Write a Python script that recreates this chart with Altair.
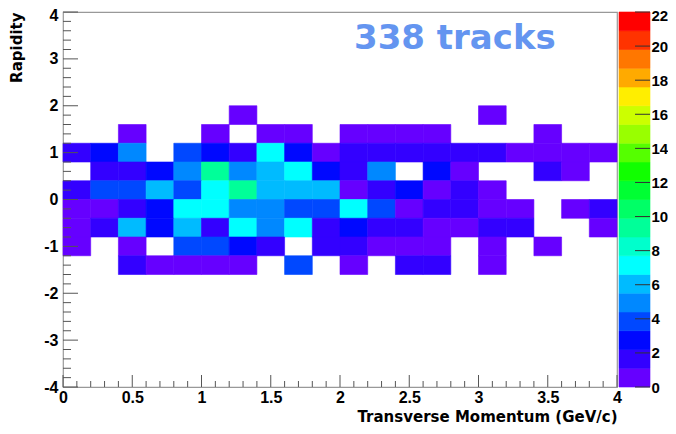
import altair as alt
import pandas as pd

# ---- histogram binning (pT: 0.2 GeV/c bins, rapidity: 0.4 bins) ----
x_edges = [0.0, 0.2, 0.4, 0.6, 0.8, 1.0, 1.2, 1.4, 1.6, 1.8, 2.0,
           2.2, 2.4, 2.6, 2.8, 3.0, 3.2, 3.4, 3.6, 3.8, 4.0]
y_lows = [1.6, 1.2, 0.8, 0.4, 0.0, -0.4, -0.8, -1.2, -1.6]
y_bin = 0.4

# bin contents, one list per rapidity row (columns = pT bins 0..19)
row_p16 = [0, 0, 0, 0, 0, 0, 1, 0, 0, 0, 0, 0, 0, 0, 0, 1, 0, 0, 0, 0]
row_p12 = [0, 0, 1, 0, 0, 1, 0, 1, 1, 0, 1, 1, 1, 1, 0, 0, 0, 1, 0, 0]
row_p08 = [2, 3, 5, 0, 4, 3, 2, 7, 3, 1, 2, 2, 2, 2, 2, 2, 1, 1, 1, 1]
row_p04 = [0, 2, 2, 3, 5, 9, 5, 6, 7, 3, 2, 5, 0, 3, 1, 0, 0, 2, 1, 0]
row_p00 = [2, 4, 4, 6, 4, 7, 9, 6, 6, 6, 1, 2, 3, 1, 2, 1, 0, 0, 0, 0]
row_m04 = [1, 1, 2, 3, 7, 7, 5, 5, 4, 4, 7, 4, 1, 2, 2, 1, 1, 0, 1, 2]
row_m08 = [1, 2, 6, 3, 6, 2, 7, 5, 7, 2, 3, 2, 2, 1, 1, 2, 2, 0, 0, 1]
row_m12 = [1, 0, 1, 0, 4, 4, 3, 2, 0, 2, 2, 1, 1, 1, 0, 1, 0, 1, 0, 0]
row_m16 = [0, 0, 2, 1, 1, 1, 1, 0, 4, 0, 1, 0, 2, 2, 0, 1, 0, 0, 0, 0]
rows = [row_p16, row_p12, row_p08, row_p04, row_p00, row_m04, row_m08, row_m12, row_m16]

# colour palette (20 contour levels from 0 to 22)
z_thresholds = [1.1, 2.2, 3.3, 4.4, 5.5, 6.6, 7.7, 8.8, 9.9, 11.0,
                12.1, 13.2, 14.3, 15.4, 16.5, 17.6, 18.7, 19.8, 20.9]
palette = ["#6600ff", "#3300ff", "#0008ff", "#0048ff", "#0088ff",
           "#00bbff", "#00ffff", "#00ffcc", "#00ff99", "#00ff66",
           "#00ff33", "#11ff00", "#55ff00", "#99ff00", "#ccff00",
           "#ffee00", "#ffaa00", "#ff7700", "#ff3300", "#ff0000"]
z_min, z_max = 0.0, 22.0
z_ticks = [0, 2, 4, 6, 8, 10, 12, 14, 16, 18, 20, 22]

x_major = [0, 0.5, 1, 1.5, 2, 2.5, 3, 3.5, 4]
x_minor = [0.1, 0.2, 0.3, 0.4, 0.6, 0.7, 0.8, 0.9, 1.1, 1.2, 1.3, 1.4,
           1.6, 1.7, 1.8, 1.9, 2.1, 2.2, 2.3, 2.4, 2.6, 2.7, 2.8, 2.9,
           3.1, 3.2, 3.3, 3.4, 3.6, 3.7, 3.8, 3.9]
y_major = [-4, -3, -2, -1, 0, 1, 2, 3, 4]
y_minor = [-3.8, -3.6, -3.4, -3.2, -2.8, -2.6, -2.4, -2.2, -1.8, -1.6, -1.4, -1.2,
           -0.8, -0.6, -0.4, -0.2, 0.2, 0.4, 0.6, 0.8, 1.2, 1.4, 1.6, 1.8,
           2.2, 2.4, 2.6, 2.8, 3.2, 3.4, 3.6, 3.8]

annotation = ["338 tracks"]
x_title = "Transverse Momentum (GeV/c)"
y_title = "Rapidity"

# ---- build tables ----
recs = []
for yl, row in zip(y_lows, rows):
    for i, c in enumerate(row):
        if c > 0:
            recs.append({"xlo": x_edges[i], "xhi": x_edges[i + 1],
                         "ylo": yl, "yhi": round(yl + y_bin, 2), "count": c})
cells = pd.DataFrame(recs)

z_edges = [z_min] + z_thresholds + [z_max]
cbar = pd.DataFrame({"zlo": z_edges[:-1], "zhi": z_edges[1:],
                     "count": [(a + b) / 2 for a, b in zip(z_edges[:-1], z_edges[1:])]})

W, H = 554, 375
LAB_FONT = "Liberation Sans"
TIT_FONT = "DejaVu Sans"

xs = alt.Scale(domain=[0, 4], nice=False, zero=False)
ys = alt.Scale(domain=[-4, 4], nice=False, zero=False)
zs = alt.Scale(domain=[z_min, z_max], nice=False, zero=False)
cs = alt.Scale(type="threshold", domain=z_thresholds, range=palette)

x_axis = alt.Axis(values=x_major, labelExpr="'' + datum.value", ticks=False, tickSize=0,
                  domain=False, grid=False, labelFont=LAB_FONT, labelFontWeight="bold",
                  labelFontSize=16, labelColor="black", labelPadding=2,
                  labelOverlap=False, labelFlush=False, title=x_title,
                  titleFont=TIT_FONT, titleFontSize=15, titleFontWeight="bold",
                  titleColor="black", titleAnchor="end", titlePadding=4)
y_axis = alt.Axis(values=y_major, labelExpr="'' + datum.value", ticks=False, tickSize=0,
                  domain=False, grid=False, labelFont=LAB_FONT, labelFontWeight="bold",
                  labelFontSize=16, labelColor="black", labelPadding=5,
                  labelOffset={"condition": {"test": "datum.value == 4", "value": 3}, "value": 0},
                  labelOverlap=False, labelFlush=False, title=y_title,
                  titleFont=TIT_FONT, titleFontSize=15, titleFontWeight="bold",
                  titleColor="black", titleAnchor="end", titlePadding=19)

cells_l = alt.Chart(cells).mark_rect(strokeWidth=0.6).encode(
    x=alt.X("xlo:Q", scale=xs, axis=x_axis),
    x2="xhi:Q",
    y=alt.Y("ylo:Q", scale=ys, axis=y_axis),
    y2="yhi:Q",
    color=alt.Color("count:Q", scale=cs, legend=None),
    stroke=alt.Color("count:Q", scale=cs, legend=None),
)

xmaj_l = alt.Chart(pd.DataFrame({"xlo": x_major})).mark_rule(color="#555", strokeWidth=1).encode(
    x=alt.X("xlo:Q", scale=xs, axis=x_axis), y=alt.value(H), y2=alt.value(H - 12))
xmin_l = alt.Chart(pd.DataFrame({"xlo": x_minor})).mark_rule(color="#555", strokeWidth=1).encode(
    x=alt.X("xlo:Q", scale=xs, axis=x_axis), y=alt.value(H), y2=alt.value(H - 6))
ymaj_l = alt.Chart(pd.DataFrame({"ylo": y_major})).mark_rule(color="#555", strokeWidth=1).encode(
    y=alt.Y("ylo:Q", scale=ys, axis=y_axis), x=alt.value(0), x2=alt.value(15))
ymin_l = alt.Chart(pd.DataFrame({"ylo": y_minor})).mark_rule(color="#555", strokeWidth=1).encode(
    y=alt.Y("ylo:Q", scale=ys, axis=y_axis), x=alt.value(0), x2=alt.value(8))

text_l = alt.Chart(pd.DataFrame({"label": annotation})).mark_text(
    align="left", baseline="alphabetic", font=TIT_FONT, fontWeight="bold",
    fontSize=34, color="#6495F0").encode(
    text="label:N", x=alt.value(291), y=alt.value(37))

main = alt.layer(cells_l, xmaj_l, xmin_l, ymaj_l, ymin_l, text_l)

cb_axis = alt.Axis(orient="right", offset=33, values=z_ticks, domain=False, ticks=False,
                   tickSize=0, grid=False, labelPadding=1, title=None,
                   labelOffset={"condition": {"test": "datum.value == 22", "value": 3}, "value": 0},
                   labelFont=LAB_FONT, labelFontWeight="bold", labelFontSize=15,
                   labelColor="black", labelOverlap=False, labelFlush=False)
cb_rect = alt.Chart(cbar).mark_rect(strokeWidth=0.6).encode(
    x=alt.value(W + 2), x2=alt.value(W + 33),
    y=alt.Y("zlo:Q", scale=zs, axis=cb_axis),
    y2="zhi:Q",
    color=alt.Color("count:Q", scale=cs, legend=None),
    stroke=alt.Color("count:Q", scale=cs, legend=None),
)
cb_ticks = alt.Chart(pd.DataFrame({"zlo": z_ticks})).mark_rule(color="#333", strokeWidth=1).encode(
    y=alt.Y("zlo:Q", scale=zs, axis=cb_axis), x=alt.value(W + 18), x2=alt.value(W + 33))
colorbar = alt.layer(cb_rect, cb_ticks)

chart = alt.layer(main, colorbar).resolve_scale(y="independent").properties(
    width=W, height=H,
    autosize=alt.AutoSizeParams(type="none"),
    padding={"left": 55, "top": 4, "right": 51, "bottom": 39},
    background="white",
).configure_view(stroke="#999", strokeWidth=1.2)

chart.save("out.html", embed_options={"renderer": "svg", "actions": False})
